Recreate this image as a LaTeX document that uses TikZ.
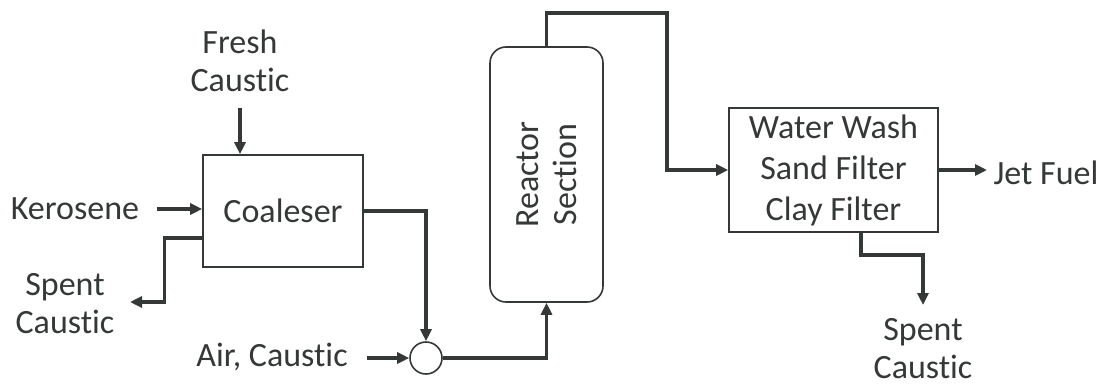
\documentclass[tikz,border=0pt]{standalone}
\usepackage{fontspec}
\setmainfont{Carlito}[Ligatures=CommonOff]
\usetikzlibrary{arrows.meta}
\definecolor{ink}{HTML}{343836}
\begin{document}
\begin{tikzpicture}[x=1pt,y=-1pt,
  lbl/.style={font=\fontsize{34}{38}\selectfont, text=ink, align=center, inner sep=0pt},
  unit/.style={draw=ink, line width=1.6pt, inner sep=0pt},
  flow/.style={draw=ink, line width=3.4pt, -{Triangle[length=12pt,width=11pt]}}]
\useasboundingbox (0,0) rectangle (1115,388);
% units
\node[unit, lbl, minimum width=160pt, minimum height=112pt] (coal) at (283,211) {Coaleser};
\node[unit, rounded corners=16pt, minimum width=113pt, minimum height=255pt] (reactor) at (546.5,174.5) {};
\node[lbl, rotate=90] (rtext) at (reactor.center) {Reactor\\Section};
\node[unit, lbl, font=\fontsize{34}{41}\selectfont, minimum width=209pt, minimum height=124pt] (wash) at (833.5,170) {Water Wash\\Sand Filter\\Clay Filter};
\node[draw=ink, line width=1.6pt, circle, minimum size=32pt, inner sep=0pt] (mix) at (426,358) {};
% labels
\node[lbl] (fresh) at (240,61) {Fresh\\Caustic};
\node[lbl] (kero) at (75,209) {Kerosene};
\node[lbl] (spent1) at (65,304) {Spent\\Caustic};
\node[lbl] (air) at (272,357) {Air, Caustic};
\node[lbl] (jet) at (1046,173) {Jet Fuel};
\node[lbl] (spent2) at (923,349) {Spent\\Caustic};
% coordinates
\coordinate (fc) at (240,108);
\coordinate (sc1) at (130,302);
\coordinate (top) at (667,13);
\coordinate (sc2) at (923,305);
% connectors
\draw[flow] (fc) -- (fc |- coal.north);
\draw[flow] (157,209) -- (coal.west |- 0,209);
\draw[flow] (coal.west) ++(0,27) -- ++(-38,0) |- (sc1);
\draw[flow] (coal.east) -| (mix.north);
\draw[flow] (367,358) -- (mix.west);
\draw[flow] (mix.east) -| (reactor.south);
\draw[flow] (reactor.north) |- (top) |- (wash.west);
\draw[flow] (wash.east) -- (987,170);
\draw[flow] (wash.south) ++(27.5,0) -- ++(0,22) -| (sc2);
\end{tikzpicture}
\end{document}
